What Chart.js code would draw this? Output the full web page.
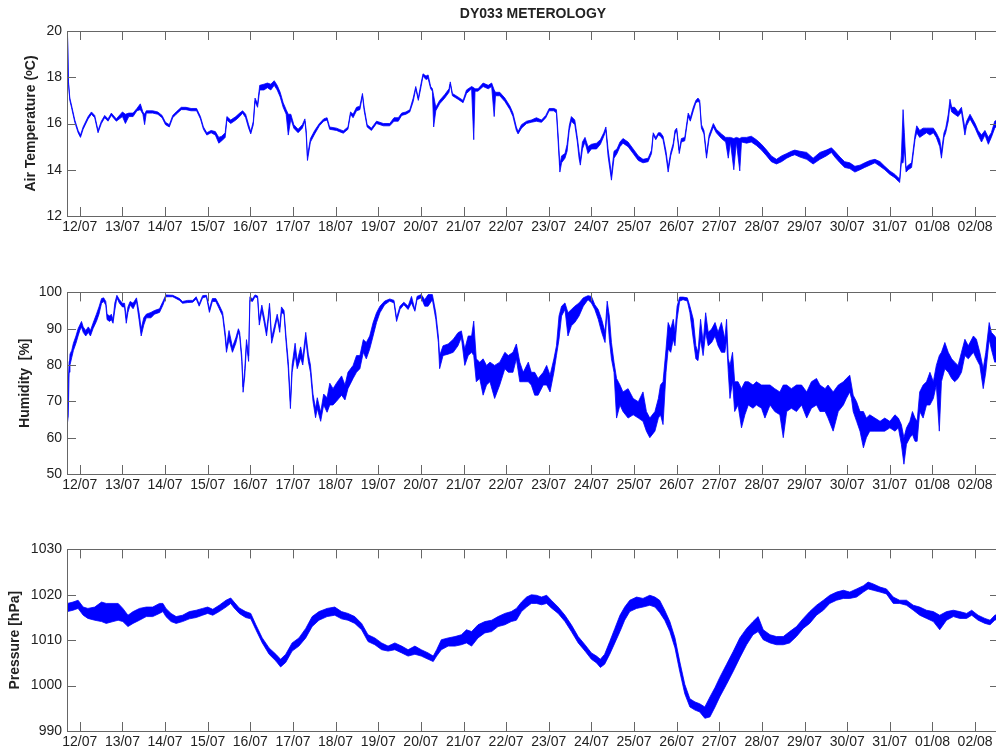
<!DOCTYPE html>
<html>
<head>
<meta charset="utf-8">
<title>DY033 METEROLOGY</title>
<script src="https://cdn.jsdelivr.net/npm/chart.js@4/dist/chart.umd.min.js"></script>
<style>
  html, body { margin: 0; padding: 0; background: #fff; overflow: hidden; }
  #wrap { position: relative; width: 996px; height: 753px; overflow: hidden; }
  canvas { position: absolute; left: 0; }
</style>
</head>
<body>
<div id="wrap">
  <canvas id="tempChart" width="1000" height="240" style="top:0px"></canvas>
  <canvas id="humChart" width="1000" height="219" style="top:279px"></canvas>
  <canvas id="presChart" width="1000" height="219" style="top:536px"></canvas>
</div>
<script>
// x values are days after 12/07 00:00
const dayLabels = ["12/07", "13/07", "14/07", "15/07", "16/07", "17/07", "18/07", "19/07", "20/07", "21/07", "22/07",
    "23/07", "24/07", "25/07", "26/07", "27/07", "28/07", "29/07", "30/07", "31/07", "01/08", "02/08"];

const tempTicks = [12, 14, 16, 18, 20];
const humTicks = [50, 60, 70, 80, 90, 100];
const presTicks = [990, 1000, 1010, 1020, 1030];

// air temperature: lower / upper edge of the trace at each time
const tempDay = [-0.29, -0.265, -0.234, -0.195, -0.117, -0.039, 0.016, 0.078, 0.195, 0.273, 0.35, 0.428, 0.506, 0.584, 0.662, 0.74, 0.857,
    1.0, 1.07, 1.15, 1.25, 1.34, 1.42, 1.48, 1.52, 1.56, 1.71, 1.83, 1.93, 2.01, 2.1, 2.18, 2.26, 2.38, 2.49, 2.61, 2.74, 2.83, 2.9, 2.98,
    3.08, 3.18, 3.26, 3.33, 3.41, 3.45, 3.54, 3.66, 3.75, 3.82, 3.89, 3.96, 4.01, 4.07, 4.11, 4.17, 4.22, 4.32, 4.4, 4.48, 4.56, 4.63, 4.7,
    4.77, 4.84, 4.89, 4.95, 5.02, 5.12, 5.22, 5.28, 5.31, 5.34, 5.41, 5.51, 5.62, 5.72, 5.8, 5.86, 6.02, 6.18, 6.29, 6.35, 6.41, 6.49, 6.57,
    6.63, 6.67, 6.74, 6.84, 6.96, 7.12, 7.27, 7.37, 7.47, 7.55, 7.65, 7.74, 7.82, 7.88, 7.94, 7.99, 8.05, 8.12, 8.17, 8.23, 8.27, 8.3, 8.35,
    8.44, 8.56, 8.66, 8.69, 8.74, 8.87, 8.99, 9.07, 9.19, 9.24, 9.27, 9.34, 9.46, 9.58, 9.66, 9.72, 9.75, 9.85, 9.97, 10.09, 10.16, 10.24,
    10.28, 10.36, 10.48, 10.59, 10.71, 10.83, 10.93, 11.01, 11.12, 11.18, 11.22, 11.26, 11.3, 11.38, 11.43, 11.48, 11.53, 11.61, 11.67,
    11.71, 11.74, 11.79, 11.85, 11.92, 12.0, 12.12, 12.21, 12.29, 12.34, 12.39, 12.47, 12.53, 12.6, 12.67, 12.74, 12.86, 12.98, 13.1, 13.21,
    13.33, 13.41, 13.45, 13.51, 13.57, 13.62, 13.68, 13.75, 13.8, 13.86, 13.92, 13.96, 14.0, 14.06, 14.11, 14.19, 14.27, 14.32, 14.39, 14.45,
    14.5, 14.54, 14.58, 14.64, 14.7, 14.76, 14.86, 14.93, 15.05, 15.15, 15.21, 15.26, 15.34, 15.4, 15.48, 15.52, 15.64, 15.75, 15.87, 15.99,
    16.11, 16.22, 16.34, 16.46, 16.58, 16.69, 16.77, 16.89, 17.05, 17.2, 17.36, 17.51, 17.63, 17.71, 17.83, 17.94, 18.06, 18.18, 18.3, 18.41,
    18.53, 18.65, 18.77, 18.88, 19.0, 19.12, 19.2, 19.23, 19.27, 19.31, 19.34, 19.38, 19.43, 19.51, 19.59, 19.63, 19.7, 19.78, 19.86, 19.94,
    20.02, 20.09, 20.17, 20.21, 20.27, 20.31, 20.37, 20.41, 20.45, 20.52, 20.6, 20.68, 20.76, 20.8, 20.88, 21.0, 21.07, 21.15, 21.23, 21.31,
    21.38, 21.46, 21.56];
const tempLow = [19.9, 17.7, 17.0, 16.7, 16.05, 15.6, 15.4, 15.75, 16.2, 16.4, 16.25, 15.6, 16.0, 16.25, 16.1, 16.35, 16.1,
    16.3, 16.0, 16.3, 16.3, 16.55, 16.6, 16.4, 15.95, 16.45, 16.45, 16.4, 16.25, 15.95, 15.85, 16.25, 16.4, 16.6, 16.6, 16.55, 16.55, 16.2, 15.75, 15.5,
    15.6, 15.5, 15.15, 15.25, 15.4, 16.15, 16.0, 16.15, 16.3, 16.45, 16.25, 15.8, 15.55, 15.95, 16.95, 16.7, 17.45, 17.45, 17.55, 17.45, 17.65, 17.45, 17.15,
    16.7, 16.4, 15.5, 16.2, 15.8, 15.6, 15.8, 16.1, 15.55, 14.4, 15.2, 15.55, 15.9, 16.1, 16.15, 15.75, 15.7, 15.58, 15.75, 16.4, 16.25, 16.55, 16.6,
    17.2, 16.55, 15.85, 15.7, 16.0, 15.9, 15.9, 16.1, 16.1, 16.35, 16.4, 16.5, 16.95, 17.5, 17.0, 17.45, 18.05, 17.9, 17.95, 17.5, 17.4, 15.85, 16.55,
    16.85, 17.1, 17.35, 17.7, 17.2, 17.05, 16.9, 17.3, 17.5, 15.3, 17.4, 17.4, 17.6, 17.5, 17.6, 16.3, 17.2, 17.2, 16.95, 16.6, 16.3, 15.7,
    15.55, 15.8, 16.0, 16.05, 16.1, 16.05, 16.25, 16.55, 16.55, 16.45, 15.2, 13.9, 14.3, 14.5, 14.8, 15.7, 16.1, 15.95, 15.2,
    14.5, 14.2, 14.9, 15.2, 14.7, 14.9, 14.9, 15.1, 15.45, 15.7, 14.6, 13.55, 14.5, 14.7, 15.0, 15.15, 15.0, 14.7, 14.4, 14.3,
    14.35, 14.7, 15.5, 15.3, 15.5, 15.45, 15.3, 14.6, 13.9, 14.6, 15.0, 15.55, 15.7, 14.7, 15.2, 15.25, 16.3, 16.1, 16.55, 16.9,
    16.95, 16.9, 15.8, 15.55, 14.5, 15.35, 15.85, 15.6, 15.35, 15.2, 14.5, 15.2, 14.0, 15.2, 13.95, 15.2, 15.15, 15.2, 15.05, 14.85,
    14.6, 14.35, 14.25, 14.35, 14.5, 14.6, 14.65, 14.55, 14.45, 14.25, 14.45, 14.6, 14.75, 14.55, 14.3, 14.1, 14.05, 13.9, 14.0, 14.1,
    14.2, 14.3, 14.15, 14.0, 13.8, 13.65, 13.5, 13.45, 14.3, 14.3, 14.9, 13.9, 14.0, 14.1, 15.3, 15.6, 15.4, 15.5, 15.6, 15.5,
    15.6, 15.4, 15.0, 14.5, 15.4, 15.6, 16.1, 16.8, 16.5, 16.4, 16.3, 16.5, 15.5, 15.9, 16.2, 15.8, 15.5, 15.2, 15.5, 15.1,
    15.4, 15.8, 16.0];
const tempHigh = [20.0, 17.8, 17.1, 16.8, 16.15, 15.7, 15.5, 15.85, 16.3, 16.5, 16.35, 15.7, 16.1, 16.35, 16.2, 16.45, 16.2,
    16.5, 16.4, 16.45, 16.45, 16.65, 16.85, 16.5, 16.4, 16.55, 16.55, 16.5, 16.35, 16.05, 15.95, 16.35, 16.5, 16.7, 16.7, 16.65, 16.65, 16.3, 15.85, 15.6,
    15.7, 15.65, 15.4, 15.45, 15.6, 16.3, 16.15, 16.3, 16.45, 16.55, 16.4, 15.95, 15.65, 16.1, 17.1, 16.85, 17.65, 17.7, 17.75, 17.7, 17.85, 17.65, 17.35,
    16.9, 16.6, 16.4, 16.4, 15.95, 15.75, 15.95, 16.2, 15.7, 14.6, 15.35, 15.7, 16.0, 16.2, 16.25, 15.85, 15.8, 15.68, 15.85, 16.5, 16.4, 16.7, 16.75,
    17.3, 16.7, 15.95, 15.8, 16.1, 16.0, 16.0, 16.25, 16.25, 16.45, 16.5, 16.6, 17.1, 17.6, 17.1, 17.6, 18.15, 18.05, 18.1, 17.6, 17.5, 17.2, 16.7,
    17.0, 17.25, 17.5, 17.8, 17.3, 17.15, 17.0, 17.45, 17.6, 17.55, 17.5, 17.5, 17.75, 17.65, 17.75, 17.45, 17.35, 17.35, 17.1, 16.75, 16.45, 15.85,
    15.65, 15.95, 16.1, 16.15, 16.25, 16.15, 16.35, 16.65, 16.65, 16.6, 15.5, 14.2, 14.6, 14.7, 15.1, 15.9, 16.3, 16.15, 15.4,
    14.8, 14.4, 15.2, 15.4, 15.0, 15.1, 15.15, 15.3, 15.6, 15.85, 14.9, 13.8, 14.8, 14.9, 15.2, 15.35, 15.2, 14.9, 14.6, 14.45,
    14.5, 14.85, 15.6, 15.4, 15.6, 15.6, 15.45, 14.8, 14.1, 14.75, 15.15, 15.7, 15.8, 14.85, 15.35, 15.4, 16.45, 16.25, 16.7, 17.0,
    17.1, 17.0, 15.95, 15.7, 14.7, 15.5, 16.0, 15.75, 15.55, 15.4, 15.4, 15.4, 15.35, 15.4, 15.35, 15.4, 15.4, 15.45, 15.3, 15.1,
    14.85, 14.6, 14.45, 14.6, 14.7, 14.8, 14.85, 14.8, 14.75, 14.5, 14.75, 14.85, 14.95, 14.8, 14.55, 14.35, 14.3, 14.15, 14.2, 14.3,
    14.4, 14.45, 14.35, 14.15, 13.95, 13.8, 13.65, 13.6, 14.6, 16.6, 15.6, 14.1, 14.2, 14.3, 15.5, 15.9, 15.7, 15.8, 15.8, 15.8,
    15.8, 15.6, 15.3, 14.8, 15.6, 15.8, 16.4, 17.05, 16.7, 16.7, 16.5, 16.7, 15.8, 16.1, 16.4, 16.0, 15.7, 15.5, 15.7, 15.4,
    15.6, 16.1, 16.2];

// humidity: lower / upper edge of the noisy trace
const humDay = [-0.29, -0.27, -0.25, -0.23, -0.19, -0.15, -0.09, -0.04, 0.0, 0.04, 0.08, 0.14, 0.2, 0.25, 0.31, 0.39, 0.45, 0.51, 0.56,
    0.61, 0.64, 0.7, 0.74, 0.78, 0.82, 0.87, 0.93, 1.0, 1.05, 1.09, 1.13, 1.18, 1.25, 1.33, 1.39, 1.44, 1.5, 1.56, 1.67, 1.75, 1.87, 1.95,
    2.02, 2.18, 2.34, 2.41, 2.53, 2.65, 2.73, 2.8, 2.88, 2.97, 3.04, 3.11, 3.19, 3.27, 3.35, 3.41, 3.44, 3.5, 3.58, 3.66, 3.72, 3.75, 3.8,
    3.83, 3.87, 3.91, 3.96, 3.99, 4.05, 4.11, 4.17, 4.21, 4.27, 4.32, 4.38, 4.42, 4.45, 4.5, 4.56, 4.63, 4.69, 4.73, 4.79, 4.84, 4.89, 4.94,
    4.98, 5.05, 5.1, 5.18, 5.23, 5.3, 5.36, 5.41, 5.47, 5.53, 5.57, 5.65, 5.72, 5.8, 5.864, 5.94, 6.02, 6.14, 6.22, 6.29, 6.41, 6.49, 6.57,
    6.65, 6.72, 6.8, 6.88, 6.96, 7.04, 7.15, 7.27, 7.37, 7.43, 7.51, 7.6, 7.7, 7.78, 7.86, 7.91, 8.01, 8.09, 8.17, 8.27, 8.35, 8.41, 8.44,
    8.52, 8.64, 8.76, 8.87, 8.95, 9.03, 9.11, 9.19, 9.24, 9.3, 9.38, 9.46, 9.54, 9.62, 9.73, 9.85, 9.97, 10.05, 10.16, 10.24, 10.32, 10.4,
    10.52, 10.59, 10.67, 10.75, 10.87, 10.95, 11.03, 11.12, 11.18, 11.24, 11.3, 11.38, 11.45, 11.53, 11.61, 11.71, 11.81, 11.92, 12.0, 12.08,
    12.16, 12.24, 12.32, 12.37, 12.42, 12.47, 12.53, 12.59, 12.67, 12.74, 12.86, 12.98, 13.1, 13.21, 13.29, 13.37, 13.49, 13.57, 13.62, 13.68,
    13.75, 13.8, 13.86, 13.92, 13.96, 14.01, 14.07, 14.15, 14.25, 14.31, 14.39, 14.45, 14.5, 14.56, 14.62, 14.68, 14.74, 14.82, 14.9, 14.97,
    15.05, 15.13, 15.17, 15.21, 15.25, 15.31, 15.36, 15.44, 15.52, 15.6, 15.68, 15.79, 15.87, 15.99, 16.07, 16.19, 16.3, 16.42, 16.5, 16.58,
    16.69, 16.81, 16.93, 17.05, 17.16, 17.28, 17.36, 17.48, 17.55, 17.67, 17.79, 17.91, 17.98, 18.06, 18.1, 18.14, 18.22, 18.3, 18.38, 18.45,
    18.53, 18.65, 18.77, 18.88, 19.0, 19.12, 19.2, 19.27, 19.33, 19.39, 19.47, 19.53, 19.59, 19.64, 19.7, 19.78, 19.86, 19.94, 20.02, 20.09,
    20.16, 20.21, 20.29, 20.37, 20.45, 20.52, 20.6, 20.68, 20.76, 20.84, 20.96, 21.03, 21.11, 21.19, 21.25, 21.33, 21.38, 21.46, 21.56];
const humLow = [64, 66, 78, 80, 82, 84, 86, 88, 89.5, 90.5, 89, 88, 89, 88, 90, 92, 94, 97, 97.5,
    96.5, 92.5, 92, 92.5, 91.5, 95, 98.5, 97, 96, 96, 91.5, 94.5, 96.5, 95.5, 97.5, 92.5, 88, 91, 93, 93, 94, 94.5, 96.5,
    98.8, 98.8, 97.8, 97, 97.2, 97.3, 98.2, 96.2, 98.5, 98.8, 94.5, 97.5, 97.5, 95.5, 93.5, 87.5, 83.5, 87, 83.5, 86, 89, 88, 81,
    72.5, 77, 85.5, 81, 97.8, 97.5, 98.8, 98.5, 91, 95, 92, 88, 92, 96, 86, 89, 93, 89, 94.5, 94, 86, 79, 68,
    78, 83, 79, 82, 80, 87, 81, 78, 70, 65.5, 68, 64.5, 69, 67, 69, 69, 70, 71.7, 70.4, 73.5, 76.3, 78, 79,
    83.5, 81.7, 84.4, 88, 91.7, 94.4, 96.6, 97.6, 97.1, 92, 95.3, 96.6, 95.3, 97.1, 94.8, 98, 98.5, 96.2, 96.2, 98, 92.6, 86.2, 79,
    82.6, 83, 83.5, 85.3, 87.6, 79.9, 82.6, 83.5, 82.6, 75.4, 76.3, 71.7, 74.5, 75.4, 70.8, 74.5, 79, 78, 78, 81.7, 75.4, 75.4,
    75.4, 74.5, 71.7, 71.7, 74.5, 74.5, 72.6, 78, 82.6, 87.1, 93.5, 95.3, 88, 90.8, 91.7, 93.5, 96.2, 98, 97.1, 95.3,
    92.6, 89, 86.2, 95.3, 87.1, 81.7, 78, 65.4, 69, 67.2, 65.4, 66.3, 65.4, 64.5, 61.8, 60, 61.8, 65.4, 66.3, 63.6,
    78, 84.4, 83.5, 87.1, 85.3, 92.6, 97.6, 98, 97.6, 94.4, 87.1, 81.7, 81.2, 87.1, 82.6, 89, 85.3, 86.2, 88, 85.3,
    83.5, 83.5, 87.1, 78, 70.8, 75.4, 67.2, 69, 62.7, 66.3, 69, 68.1, 69, 68.1, 65.4, 69, 67.2, 66.3, 60, 67.2,
    68.1, 67.2, 69, 65.4, 68.1, 69, 67.2, 67.2, 65.4, 61.8, 67.2, 69, 70.8, 72.6, 70.8, 67.2, 64.5, 61.8, 57.2, 60,
    61.8, 61.8, 61.8, 61.8, 62.7, 61.8, 62.7, 58.2, 52.7, 58.2, 60, 60.9, 59, 59, 67.2, 65.4, 69, 69, 70.8, 74.5,
    61.8, 75.4, 79, 78, 76.3, 75.4, 76.3, 78, 82.6, 81.7, 83.5, 81.7, 79.9, 73.5, 78, 87.1, 84.4, 80.8, 81];
const humHigh = [66, 75, 81, 83, 84, 86, 88, 90, 91, 92, 90.5, 89.5, 90.5, 89.5, 91.5, 94, 96, 98.3, 98.5,
    97.5, 94, 93.5, 94, 92.5, 97, 99.2, 98, 97, 97, 93, 96, 97.5, 97, 98.5, 94.5, 90, 93, 94, 94.5, 95, 95.5, 97.5,
    99.3, 99.2, 98.3, 97.5, 97.8, 97.8, 98.8, 96.8, 99.1, 99.2, 95.5, 98.3, 98.3, 96.5, 94.5, 89, 85, 89.5, 85, 87.5, 90, 89, 82.5,
    74, 79, 87, 82.5, 98.8, 98.2, 99.3, 99, 92.5, 96.5, 93.5, 89.5, 93.5, 97, 87.5, 90.5, 94, 90.5, 96, 95, 87.5, 81, 70,
    80, 86, 81, 85, 82, 89, 83, 80, 72, 68, 71, 67, 72, 71, 75, 73.5, 75, 77, 74.5, 78, 79.9, 82.6, 82.6,
    87, 86.2, 88, 91.7, 94.4, 96.2, 97.6, 98.2, 97.8, 93, 96.2, 97.3, 96.2, 98.9, 95.3, 98.9, 99.4, 98, 99.4, 99.4, 94.4, 88, 82.6,
    85.3, 85.8, 87.1, 88.9, 89.4, 84.4, 88, 88, 92.1, 81.7, 80.8, 81.7, 79.9, 80.8, 79.9, 80.8, 83.5, 82.6, 83.5, 85.8, 80.8, 78,
    80.8, 78, 78, 76.3, 78, 79.9, 77.2, 81.7, 85.3, 93.5, 96.2, 97.1, 94.4, 95.3, 96.2, 97.1, 98.5, 99.1, 98.9, 96.6,
    95.3, 92.6, 89, 97.6, 93.5, 86.2, 80.8, 76.3, 74.5, 72.6, 73.5, 70.8, 69.9, 72.6, 67.2, 65.4, 67.2, 70.8, 74.5, 75.4,
    84.4, 91.7, 89.9, 92.6, 89, 96.2, 98.7, 98.7, 98.5, 96.2, 92.6, 85.3, 83.5, 92.6, 86.2, 94.4, 89, 89.9, 91.7, 89,
    91.7, 87.1, 92.6, 81.7, 79.9, 83.5, 75.4, 75.4, 73.5, 75.4, 75.4, 74.5, 75.4, 74.5, 74.5, 74.5, 73.5, 72.6, 74.5, 74.5,
    73.5, 74.5, 74.5, 72.6, 75.4, 76.3, 74.5, 73.5, 74.5, 72.6, 74.5, 75.4, 76.3, 77.2, 74.5, 71.7, 69.9, 67.2, 67.2, 65.4,
    66.3, 65.4, 64.5, 65.4, 64.5, 66.3, 65.4, 63.6, 60, 62.7, 64.5, 67.2, 65.4, 64.5, 72.6, 74.5, 75.4, 78, 75.4, 79.9,
    82.6, 83.5, 86.2, 83.5, 81.7, 80.8, 79.9, 83.5, 87.1, 85.3, 88, 87.1, 83.5, 79, 83.5, 91.7, 89, 88, 86];

// pressure: lower / upper edge of the band
const presDay = [-0.29, -0.16, -0.04, 0.08, 0.19, 0.35, 0.51, 0.62, 0.78, 0.9, 1.01, 1.13, 1.25, 1.4, 1.56, 1.71, 1.87, 1.95, 2.02,
    2.14, 2.26, 2.41, 2.57, 2.73, 2.88, 3.0, 3.12, 3.27, 3.43, 3.54, 3.62, 3.74, 3.89, 4.01, 4.13, 4.28, 4.44, 4.6, 4.71, 4.83, 4.98,
    5.14, 5.3, 5.45, 5.61, 5.8, 5.98, 6.14, 6.29, 6.45, 6.61, 6.76, 6.92, 7.08, 7.23, 7.39, 7.55, 7.7, 7.86, 8.01, 8.17, 8.29, 8.37, 8.48,
    8.64, 8.8, 8.95, 9.07, 9.19, 9.34, 9.5, 9.66, 9.81, 9.97, 10.12, 10.24, 10.36, 10.48, 10.59, 10.71, 10.83, 10.95, 11.06, 11.22, 11.38,
    11.53, 11.69, 11.85, 12.0, 12.12, 12.21, 12.31, 12.43, 12.55, 12.67, 12.78, 12.9, 13.06, 13.21, 13.37, 13.49, 13.6, 13.72, 13.84, 13.96,
    14.07, 14.19, 14.31, 14.43, 14.54, 14.66, 14.78, 14.9, 15.01, 15.17, 15.33, 15.48, 15.64, 15.79, 15.91, 16.03, 16.19, 16.34, 16.5, 16.65,
    16.81, 16.97, 17.12, 17.28, 17.44, 17.59, 17.75, 17.91, 18.06, 18.22, 18.38, 18.49, 18.61, 18.77, 18.92, 19.08, 19.23, 19.39, 19.55, 19.7,
    19.86, 20.02, 20.17, 20.33, 20.49, 20.64, 20.8, 20.92, 21.07, 21.23, 21.35, 21.46, 21.56];
const presLow = [1016.3, 1016.6, 1017, 1015.5, 1014.8, 1014.4, 1014.1, 1013.7, 1014.1, 1014.4, 1014.1, 1013, 1013.7, 1014.4, 1015.2, 1015.2, 1015.9, 1016.3, 1015.2,
    1014.1, 1013.7, 1014.1, 1014.7, 1015, 1015.5, 1015.9, 1015.5, 1016.3, 1017.3, 1018.1, 1017.1, 1015.9, 1015, 1014.7, 1012.3, 1009.4, 1006.9, 1005.4, 1004.1, 1005.1, 1007.6,
    1008.7, 1010.5, 1013, 1014.4, 1015.2, 1015.5, 1014.7, 1014.4, 1013.7, 1012.3, 1009.7, 1009, 1007.9, 1007.6, 1007.9, 1007.2, 1006.5, 1006.9, 1006.5, 1005.8, 1005.3, 1006.5, 1007.9,
    1008.7, 1008.7, 1009, 1009.4, 1008.7, 1010.5, 1011.6, 1011.9, 1013, 1013.4, 1014.1, 1014.4, 1016.3, 1017.3, 1018.1, 1018.1, 1017.8, 1018.1, 1017.1, 1015.9, 1014.1,
    1011.9, 1009.4, 1007.6, 1005.8, 1005, 1004, 1004.7, 1006.9, 1009.4, 1011.9, 1014.4, 1016.3, 1017, 1017.3, 1017.7, 1017.3, 1016.1, 1014.4, 1011.9, 1008.3,
    1003.2, 998.2, 995.3, 994.6, 994.2, 992.8, 993.1, 995.3, 997.5, 1000.3, 1003.2, 1006.1, 1009, 1011.2, 1011.9, 1010.1, 1009.4, 1009, 1009, 1009.4,
    1010.8, 1012.6, 1013.7, 1015.5, 1016.6, 1018.1, 1018.8, 1019.2, 1019.2, 1019.5, 1020.6, 1021.3, 1021, 1020.6, 1020.2, 1018.1, 1018.1, 1017.7, 1016.6, 1015.5,
    1014.8, 1014.1, 1012.3, 1014.4, 1015.2, 1014.8, 1014.8, 1015.5, 1014.4, 1013.7, 1013.4, 1014.4, 1014.8];
const presHigh = [1018.1, 1018.4, 1018.8, 1017.3, 1017, 1017.3, 1018.4, 1018.1, 1018.1, 1018.1, 1017, 1015.5, 1016.3, 1017, 1017.3, 1017.3, 1018.1, 1018.1, 1017,
    1015.9, 1015.2, 1015.5, 1016.3, 1016.6, 1017, 1017.3, 1016.8, 1017.7, 1018.8, 1019.3, 1018.4, 1017.1, 1016.3, 1015.9, 1013.4, 1010.5, 1008.3, 1006.9, 1005.8, 1006.9, 1009.4,
    1010.5, 1012.6, 1015.2, 1016.3, 1017, 1017.3, 1016.3, 1015.9, 1015.2, 1013.7, 1011.2, 1010.5, 1009.4, 1008.7, 1009.4, 1008.7, 1007.9, 1008.7, 1007.9, 1007.2, 1006.5, 1007.9, 1010.1,
    1010.5, 1010.8, 1011.2, 1012.3, 1011.9, 1013.4, 1014.1, 1014.4, 1015.2, 1015.9, 1016.3, 1017, 1018.4, 1019.5, 1020, 1019.9, 1019.5, 1019.9, 1018.8, 1017.3, 1015.5,
    1013.4, 1010.8, 1009, 1007.2, 1006.5, 1005.8, 1006.9, 1009.7, 1012.6, 1015.5, 1017.3, 1018.8, 1019.5, 1019.2, 1019.9, 1019.5, 1018.8, 1016.6, 1014.1, 1010.5,
    1005.4, 1000.3, 997.1, 996.4, 996, 995.3, 997.5, 999.6, 1001.8, 1004.7, 1007.6, 1010.5, 1012.6, 1014.1, 1015.2, 1012.3, 1011.2, 1010.8, 1010.8, 1011.9,
    1013, 1014.8, 1016.3, 1017.7, 1018.8, 1019.9, 1020.6, 1021, 1020.6, 1021.3, 1022, 1022.8, 1022.4, 1021.7, 1021.3, 1019.5, 1018.8, 1018.8, 1017.7, 1017.3,
    1016.6, 1016.3, 1015.5, 1016.3, 1016.6, 1016.3, 1015.9, 1016.6, 1015.5, 1014.8, 1014.4, 1015.5, 1015.8];

const BLUE = "#0000ff";
const AXIS = "#666666";

Chart.defaults.font.family = '"Liberation Sans", Arial, sans-serif';
Chart.defaults.color = "#222222";

// matlab style box with inward ticks on all four sides
const boxTicks = {
    id: "boxTicks",
    afterDatasetsDraw(chart) {
        const { ctx, chartArea: a, scales } = chart;
        const len = 9;
        ctx.save();
        ctx.strokeStyle = AXIS;
        ctx.lineWidth = 1;
        ctx.beginPath();
        scales.x.ticks.forEach(t => {
            const px = Math.round(scales.x.getPixelForValue(t.value)) + 0.5;
            ctx.moveTo(px, a.bottom); ctx.lineTo(px, a.bottom - len);
            ctx.moveTo(px, a.top); ctx.lineTo(px, a.top + len);
        });
        scales.y.ticks.forEach(t => {
            const py = Math.round(scales.y.getPixelForValue(t.value)) + 0.5;
            ctx.moveTo(a.left, py); ctx.lineTo(a.left + len, py);
            ctx.moveTo(a.right, py); ctx.lineTo(a.right - len, py);
        });
        ctx.stroke();
        ctx.strokeRect(Math.round(a.left) + 0.5, Math.round(a.top) + 0.5,
            Math.round(a.right - a.left), Math.round(a.bottom - a.top));
        ctx.restore();
    }
};

function bandDatasets(day, lo, hi) {
    const line = { borderColor: BLUE, borderWidth: 0.8, pointRadius: 0, tension: 0 };
    return [
        Object.assign({}, line, { data: day.map((d, i) => ({ x: d, y: hi[i] })), fill: false }),
        Object.assign({}, line, { data: day.map((d, i) => ({ x: d, y: lo[i] })), fill: "-1", backgroundColor: BLUE })
    ];
}

function createPanel(canvasId, day, lo, hi, yTicks, yLabel, titleOffset, mainTitle) {
    const ctx = document.getElementById(canvasId).getContext("2d");
    new Chart(ctx, {
        type: "line",
        data: { datasets: bandDatasets(day, lo, hi) },
        plugins: [boxTicks],
        options: {
            responsive: false,
            animation: false,
            layout: { padding: { left: 0, right: 1, top: mainTitle ? 0 : 10, bottom: 0 } },
            scales: {
                x: {
                    type: "linear",
                    min: -0.3,
                    max: 21.56,
                    grid: { display: false, drawTicks: false },
                    border: { display: false },
                    afterBuildTicks: s => { s.ticks = dayLabels.map((_, i) => ({ value: i })); },
                    afterFit: s => { s.height = 24; },
                    ticks: {
                        autoSkip: false,
                        maxRotation: 0,
                        padding: 3,
                        font: { size: 14 },
                        callback: v => dayLabels[v]
                    }
                },
                y: {
                    min: yTicks[0],
                    max: yTicks[yTicks.length - 1],
                    grid: { display: false, drawTicks: false },
                    border: { display: false },
                    afterBuildTicks: s => { s.ticks = yTicks.map(v => ({ value: v })); },
                    afterFit: s => { s.width = 67; },
                    ticks: { padding: 5, font: { size: 14 }, callback: v => String(v) },
                    title: {
                        display: true,
                        text: yLabel,
                        font: { size: 14, weight: "bold" },
                        padding: { top: titleOffset, bottom: 0 }
                    }
                }
            },
            plugins: {
                legend: { display: false },
                tooltip: { enabled: false },
                title: {
                    display: !!mainTitle,
                    text: mainTitle,
                    fullSize: false,
                    font: { size: 14, weight: "bold" },
                    padding: { top: 6, bottom: 8.2 }
                }
            }
        }
    });
}

createPanel("tempChart", tempDay, tempLow, tempHigh, tempTicks, "Air Temperature (ᵒC)", 23, "DY033 METEROLOGY");
createPanel("humChart", humDay, humLow, humHigh, humTicks, "Humidity  [%]", 16.6, "");
createPanel("presChart", presDay, presLow, presHigh, presTicks, "Pressure [hPa]", 6.6, "");
</script>
</body>
</html>
